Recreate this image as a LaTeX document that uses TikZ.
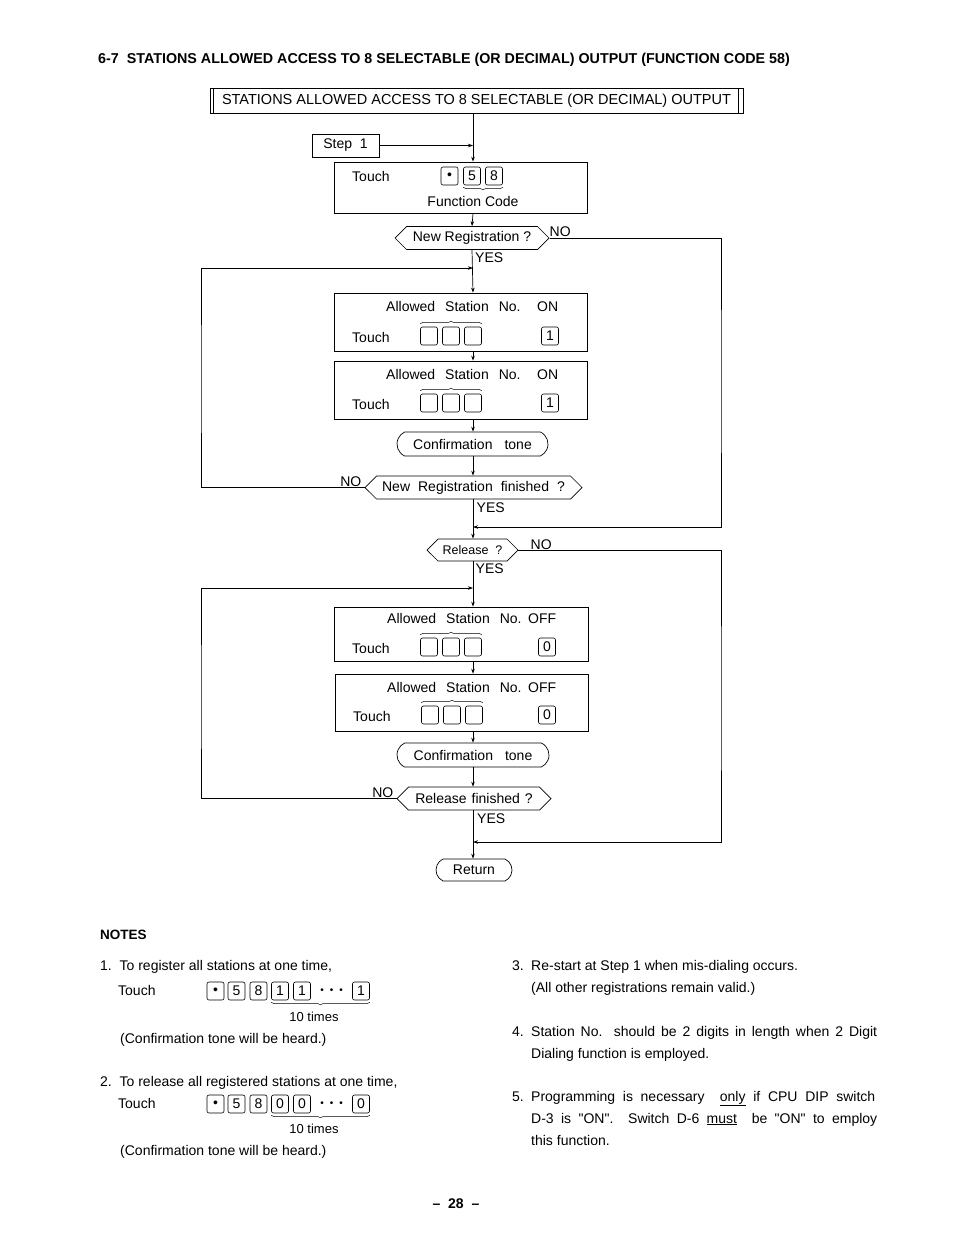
\documentclass[tikz,border=0pt]{standalone}
\usepackage{fontspec}
\setmainfont{Liberation Sans}
\usepackage{tikz}
\usetikzlibrary{arrows.meta, positioning, decorations.pathreplacing, calc, shapes.symbols, shapes.misc}

\tikzset{
  flow/.style={line width=0.7pt},
  arr/.style={flow, -{Stealth[length=5pt, width=3.5pt]}},
  box/.style={draw, line width=0.7pt, inner sep=0pt},
  ask/.style={draw, line width=0.7pt, signal, signal to=west and east, minimum height=23pt, inner sep=0pt},
  tone/.style={draw, line width=0.7pt, rounded rectangle, rounded rectangle arc length=130, minimum height=24pt, inner sep=0pt},
  key/.style={draw, line width=0.6pt, rounded corners=2pt, minimum width=17pt, minimum height=18pt, inner sep=0pt},
  txt/.style={anchor=base west, inner sep=0pt},
  yesno/.style={inner sep=0pt, font=\fontsize{14}{16}\selectfont},
  brc/.style={decorate, decoration={brace, amplitude=2.5pt}, line width=0.5pt},
}

\begin{document}
\begin{tikzpicture}[x=1pt, y=-1pt, font=\fontsize{14}{16}\selectfont]
  \useasboundingbox (0,0) rectangle (954,1235);

  % heading
  \node[txt, font=\fontsize{14.3}{16}\bfseries] (head) at (98,63) {6-7\ \ STATIONS ALLOWED ACCESS TO 8 SELECTABLE (OR DECIMAL) OUTPUT (FUNCTION CODE 58)};

  % flow chart
  \coordinate (s) at (473,0);
  \node[box, minimum width=533pt, minimum height=25pt, font=\fontsize{14.5}{16}\selectfont] (title) at (476.5,100.5) {STATIONS ALLOWED ACCESS TO 8 SELECTABLE (OR DECIMAL) OUTPUT};
  \draw[flow] ([xshift=4pt]title.north west) -- ([xshift=4pt]title.south west);
  \draw[flow] ([xshift=-5pt]title.north east) -- ([xshift=-5pt]title.south east);
  \node[box, minimum width=67pt, minimum height=23pt] (step) at (345.5,145.5) {Step\ \ 1};

  \node[box, minimum width=253pt, minimum height=51pt] (fc) at (460.5,187.5) {};
  \node[txt] (fct) at (352,181) {Touch};
  \node[key] (fk1) at (449.5,176) {\textbullet};
  \node[key] (fk2) at (472,176) {5};
  \node[key] (fk3) at (494,176) {8};
  \draw[brc] ([yshift=-2pt]fk3.south east) -- ([yshift=-2pt]fk2.south west);
  \node[txt, anchor=base] (fcn) at (473,206) {Function Code};

  \node[ask, minimum width=154pt] (nr) at (472,238) {New Registration ?};

  \node[box, minimum width=253pt, minimum height=58pt] (b2) at (460.5,322) {};
  \node[txt] (b2a) at (386,311) {Allowed\hspace{10pt}Station\hspace{10pt}No.};
  \node[txt] (b2b) at (537,311) {ON};
  \node[txt] (b2t) at (352,342) {Touch};
  \foreach \i/\x in {1/429, 2/451, 3/473}
    \node[key] (ka\i) at (\x,336) {};
  \node[key] (ka4) at (550,336) {1};
  \draw[brc] ([yshift=3pt]ka1.north west) -- ([yshift=3pt]ka3.north east);

  \node[box, minimum width=253pt, minimum height=58pt] (b3) at (460.5,390) {};
  \node[txt] (b3a) at (386,379) {Allowed\hspace{10pt}Station\hspace{10pt}No.};
  \node[txt] (b3b) at (537,379) {ON};
  \node[txt] (b3t) at (352,409) {Touch};
  \foreach \i/\x in {1/429, 2/451, 3/473}
    \node[key] (kb\i) at (\x,403) {};
  \node[key] (kb4) at (550,403) {1};
  \draw[brc] ([yshift=3pt]kb1.north west) -- ([yshift=3pt]kb3.north east);

  \node[tone, minimum width=151pt] (ct1) at (472.5,444) {Confirmation\hspace{12pt}tone};
  \node[ask, minimum width=217pt] (nf) at (473.5,487.5) {New\hspace{8pt}Registration\hspace{8pt}finished\hspace{8pt}?};
  \node[ask, minimum width=91pt, minimum height=22pt, font=\fontsize{12.5}{14}\selectfont] (rel) at (472.5,550) {Release\ \ ?};

  \node[box, minimum width=254pt, minimum height=54pt] (b4) at (461,634) {};
  \node[txt] (b4a) at (387,623) {Allowed\hspace{10pt}Station\hspace{10pt}No.};
  \node[txt] (b4b) at (528,623) {OFF};
  \node[txt] (b4t) at (352,653) {Touch};
  \foreach \i/\x in {1/429, 2/451, 3/473}
    \node[key] (kc\i) at (\x,647) {};
  \node[key] (kc4) at (547,647) {0};
  \draw[brc] ([yshift=3pt]kc1.north west) -- ([yshift=3pt]kc3.north east);

  \node[box, minimum width=253pt, minimum height=57pt] (b5) at (461.5,702.5) {};
  \node[txt] (b5a) at (387,692) {Allowed\hspace{10pt}Station\hspace{10pt}No.};
  \node[txt] (b5b) at (528,692) {OFF};
  \node[txt] (b5t) at (353,721) {Touch};
  \foreach \i/\x in {1/430, 2/452, 3/474}
    \node[key] (kd\i) at (\x,715) {};
  \node[key] (kd4) at (547,715) {0};
  \draw[brc] ([yshift=3pt]kd1.north west) -- ([yshift=3pt]kd3.north east);

  \node[tone, minimum width=152pt] (ct2) at (473,755) {Confirmation\hspace{12pt}tone};
  \node[ask, minimum width=154pt] (rf) at (474,798.5) {Release\hspace{5pt}finished\hspace{5pt}?};
  \node[tone, minimum width=76pt, minimum height=22pt] (ret) at (474,870) {Return};

  % YES / NO
  \node[yesno, anchor=south west] (n1) at ([yshift=1pt]nr.east) {NO};
  \node[yesno, anchor=north west] (y1) at ([xshift=3pt, yshift=-3pt]nr.south) {YES};
  \node[yesno, anchor=south east] (n2) at ([xshift=-3pt, yshift=1pt]nf.west) {NO};
  \node[yesno, anchor=north west] (y2) at ([xshift=3pt, yshift=-3pt]nf.south) {YES};
  \node[yesno, anchor=south west] (n3) at ([xshift=12pt, yshift=0pt]rel.east) {NO};
  \node[yesno, anchor=north west] (y3) at ([xshift=3pt, yshift=-2pt]rel.south) {YES};
  \node[yesno, anchor=south east] (n4) at ([xshift=-3pt, yshift=1pt]rf.west) {NO};
  \node[yesno, anchor=north west] (y4) at ([xshift=3pt, yshift=-3pt]rf.south) {YES};

  % main line
  \draw[arr] (title.south -| s) -- (fc.north -| s);
  \draw[arr] (step.east) -- (step.east -| s);
  \draw[arr] (fc.south -| s) -- (nr.north);
  \draw[arr] (nr.south) -- (b2.north -| s);
  \draw[arr] (b2.south -| s) -- (b3.north -| s);
  \draw[arr] (b3.south -| s) -- (ct1.north -| s);
  \draw[arr] (ct1.south -| s) -- (nf.north -| s);
  \draw[arr] (nf.south -| s) -- (rel.north -| s);
  \draw[arr] (rel.south -| s) -- (b4.north -| s);
  \draw[arr] (b4.south -| s) -- (b5.north -| s);
  \draw[arr] (b5.south -| s) -- (ct2.north -| s);
  \draw[arr] (ct2.south -| s) -- (rf.north -| s);
  \draw[arr] (rf.south -| s) -- (ret.north -| s);

  % loops
  \coordinate (mA) at (473,527);
  \coordinate (mB) at (473,268);
  \coordinate (mC) at (473,842);
  \coordinate (mD) at (473,588);
  \coordinate (rA) at (721,380);
  \coordinate (lA) at (201,380);
  \coordinate (rB) at (721,700);
  \coordinate (lB) at (201,700);
  \draw[arr] (nr.east) -| (rA) |- (mA);
  \draw[arr] (nf.west) -| (lA) |- (mB);
  \draw[arr] (rel.east) -| (rB) |- (mC);
  \draw[arr] (rf.west) -| (lB) |- (mD);

  % notes
  \node[txt, font=\fontsize{13.5}{16}\bfseries] (notes) at (100,939) {NOTES};

  \node[txt] (na) at (100,970) {1.\ \ To register all stations at one time,};
  \node[txt] (nat) at (118,995) {Touch};
  \foreach \i/\x/\c in {1/215.5/\textbullet, 2/236.5/5, 3/258.5/8, 4/280/1, 5/302/1, 6/361/1}
    \node[key] (ne\i) at (\x,991) {\c};
  \node[inner sep=0pt, font=\fontsize{10}{10}\selectfont] (nd1) at (331.5,991) {\textbullet\hspace{6pt}\textbullet\hspace{6pt}\textbullet};
  \draw[brc] ([yshift=-2pt]ne6.south east) -- ([yshift=-2pt]ne4.south west);
  \node[txt, anchor=base, font=\fontsize{13}{15}\selectfont] (nat2) at (314,1021) {10 times};
  \node[txt] (nac) at (120,1043) {(Confirmation tone will be heard.)};

  \node[txt] (nb) at (100,1086) {2.\ \ To release all registered stations at one time,};
  \node[txt] (nbt) at (118,1108) {Touch};
  \foreach \i/\x/\c in {1/215.5/\textbullet, 2/236.5/5, 3/258.5/8, 4/280/0, 5/302/0, 6/361/0}
    \node[key] (nf\i) at (\x,1104) {\c};
  \node[inner sep=0pt, font=\fontsize{10}{10}\selectfont] (nd2) at (331.5,1104) {\textbullet\hspace{6pt}\textbullet\hspace{6pt}\textbullet};
  \draw[brc] ([yshift=-2pt]nf6.south east) -- ([yshift=-2pt]nf4.south west);
  \node[txt, anchor=base, font=\fontsize{13}{15}\selectfont] (nbt2) at (314,1133) {10 times};
  \node[txt] (nbc) at (120,1155) {(Confirmation tone will be heard.)};

  \node[txt] (nc0) at (512,970) {3.};
  \node[txt] (nc1) at (531,970) {Re-start at Step 1 when mis-dialing occurs.};
  \node[txt] (nc2) at (531,992) {(All other registrations remain valid.)};

  \node[txt] (nd0) at (512,1036) {4.};
  \node[txt] (nd1) at (531,1036) {\makebox[346pt][s]{Station No. should be 2 digits in length when 2 Digit}};
  \node[txt] (nd2) at (531,1058) {Dialing function is employed.};

  \node[txt] (ne0) at (512,1101) {5.};
  \node[txt] (ne1) at (531,1101) {\makebox[344pt][s]{Programming is necessary \ \underline{only}\ if CPU DIP switch}};
  \node[txt] (ne2) at (531,1123) {\makebox[346pt][s]{D-3 is \textquotedbl ON\textquotedbl. \ Switch D-6 \underline{must}\ \ be \textquotedbl ON\textquotedbl\ to employ}};
  \node[txt] (ne3) at (531,1145) {this function.};

  \node[txt, anchor=base, font=\fontsize{14}{16}\bfseries] (page) at (456,1208) {--\ \ 28\ \ --};
\end{tikzpicture}
\end{document}
